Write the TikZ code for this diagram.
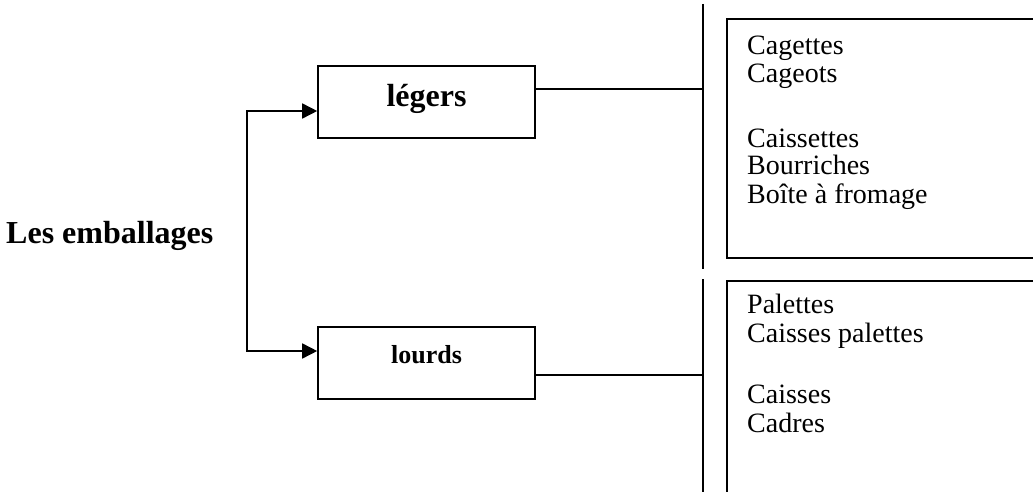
\documentclass[tikz,border=0pt]{standalone}
\usepackage{fontspec}
\setmainfont{Liberation Serif}
\usetikzlibrary{arrows.meta}
\tikzset{
  box/.style={draw, line width=1.6pt, inner sep=0pt},
  item/.style={inner sep=0pt, anchor=base west, font=\fontsize{28}{28}\selectfont},
  ln/.style={line width=1.6pt},
  arr/.style={line width=1.6pt, {Triangle[length=15pt,width=15pt]}-{Triangle[length=15pt,width=15pt]}},
}
\begin{document}
\begin{tikzpicture}[x=1pt,y=-1pt]
\clip (0,0) rectangle (1033,492);
\fill[white] (0,0) rectangle (1033,492);
% left title
\node[inner sep=0pt, anchor=base west, font=\bfseries\fontsize{32}{32}\selectfont] (title) at (6,243) {Les emballages};
% middle boxes
\node[box, minimum width=217pt, minimum height=72pt, text height=22pt, text depth=12pt,
      font=\bfseries\fontsize{32}{32}\selectfont] (legers) at (426.5,102) {légers};
\node[box, minimum width=217pt, minimum height=72pt, text height=18pt, text depth=18pt,
      font=\bfseries\fontsize{26}{26}\selectfont] (lourds) at (426.5,363) {lourds};
% split arrow
\coordinate (jt) at (247,111);
\coordinate (jb) at (247,351);
\draw[arr] (lourds.west |- jb) -- (jb) -- (jt) -- (legers.west |- jt);
% right bars
\coordinate (bt1) at (703,4);
\coordinate (bt2) at (703,269);
\coordinate (bb1) at (703,279);
\coordinate (bb2) at (703,495);
\draw[ln] (bt1) -- (bt2);
\draw[ln] (bb1) -- (bb2);
\coordinate (ct) at (703,89);
\coordinate (cb) at (703,375);
\draw[ln] (legers.east |- ct) -- (ct);
\draw[ln] (lourds.east |- cb) -- (cb);
% right boxes
\node[box, anchor=north west, minimum width=330pt, minimum height=239pt] (rtop) at (726,18) {};
\node[box, anchor=north west, minimum width=330pt, minimum height=240pt] (rbot) at (726,280) {};
% items
\node[item] (i1) at (747,55) {Cagettes};
\node[item] (i2) at (747,83) {Cageots};
\node[item] (i3) at (747,147) {Caissettes};
\node[item] (i4) at (747,175) {Bourriches};
\node[item] (i5) at (747,203) {Boîte à fromage};
\node[item] (j1) at (747,313) {Palettes};
\node[item] (j2) at (747,342) {Caisses palettes};
\node[item] (j3) at (747,403) {Caisses};
\node[item] (j4) at (747,432) {Cadres};
\end{tikzpicture}
\end{document}
